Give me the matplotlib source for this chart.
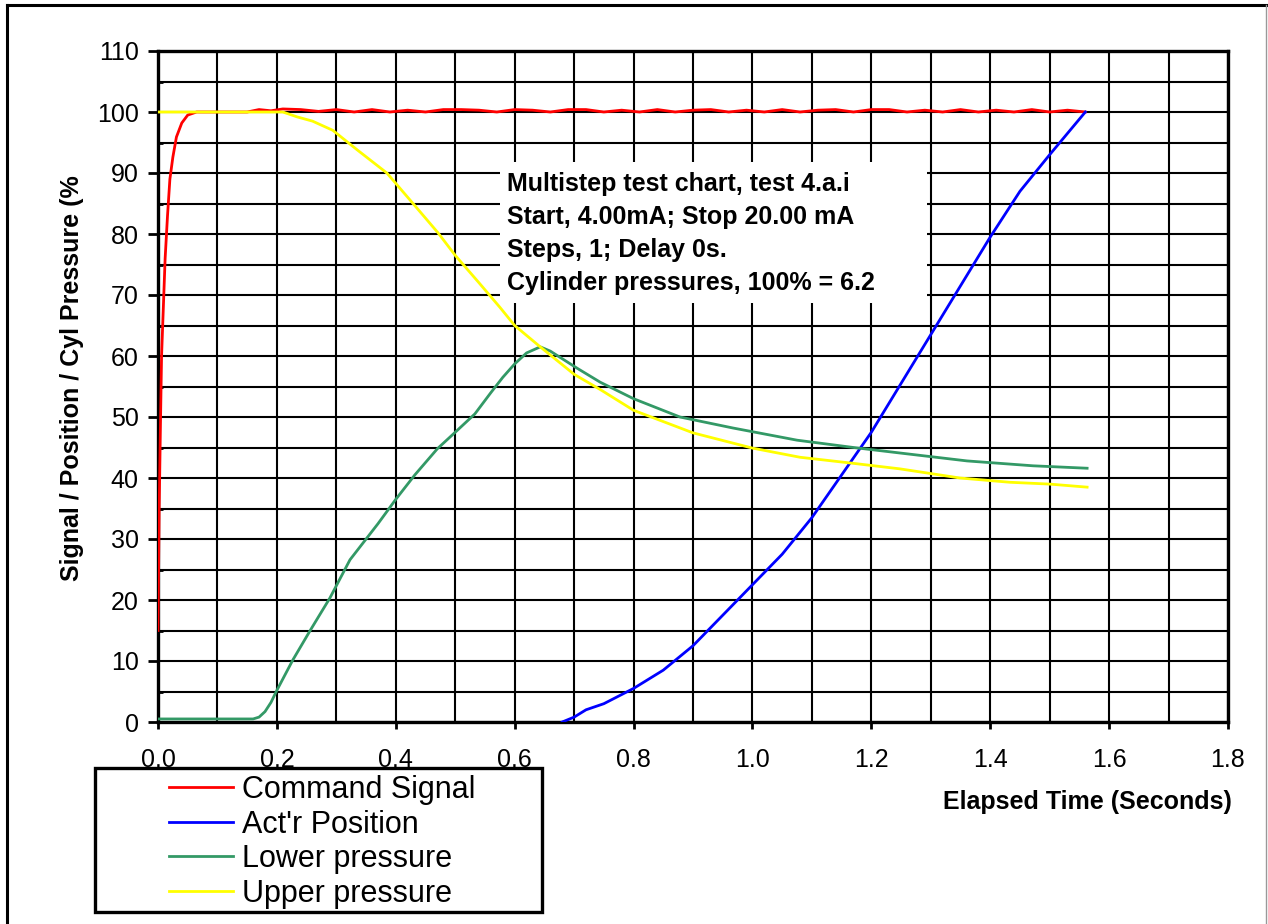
import numpy as np
import matplotlib
matplotlib.use("Agg")
import matplotlib.pyplot as plt
from matplotlib.patches import Rectangle
from matplotlib.lines import Line2D

plt.rcParams['font.family'] = ['Liberation Sans', 'DejaVu Sans']

# Command Signal (red)
cmd_t = [0.000, 0.001, 0.002, 0.004, 0.006, 0.009, 0.012, 0.016, 0.020, 0.025, 0.031, 0.040, 0.050, 0.065,
         0.15, 0.17, 0.19, 0.21, 0.24, 0.27, 0.30, 0.33, 0.36, 0.39, 0.42, 0.45, 0.48, 0.51, 0.54, 0.57,
         0.60, 0.63, 0.66, 0.69, 0.72, 0.75, 0.78, 0.81, 0.84, 0.87, 0.90, 0.93, 0.96, 0.99, 1.02, 1.05,
         1.08, 1.11, 1.14, 1.17, 1.20, 1.23, 1.26, 1.29, 1.32, 1.35, 1.38, 1.41, 1.44, 1.47, 1.50, 1.53, 1.56]
cmd_v = [15, 25, 35, 48, 60, 68, 76, 83, 89, 92.6, 95.9, 98.2, 99.5, 100,
         100, 100.4, 100.2, 100.5, 100.4, 100.1, 100.4, 100.0, 100.4, 100.0, 100.3, 100.0, 100.4, 100.4,
         100.3, 100.0, 100.4, 100.3, 100.0, 100.4, 100.4, 100.0, 100.3, 100.0, 100.4, 100.0, 100.3,
         100.4, 100.0, 100.3, 100.0, 100.4, 100.0, 100.3, 100.4, 100.0, 100.4, 100.4, 100.0, 100.3,
         100.0, 100.4, 100.0, 100.3, 100.0, 100.4, 100.0, 100.3, 100.0]

# Act'r Position (blue)
pos_t = [0.68, 0.70, 0.72, 0.75, 0.80, 0.85, 0.90, 0.95, 1.00, 1.05, 1.10, 1.15, 1.20, 1.25,
         1.30, 1.35, 1.40, 1.45, 1.50, 1.53, 1.56]
pos_v = [0, 0.8, 2.0, 3.0, 5.5, 8.5, 12.5, 17.5, 22.5, 27.5, 33.5, 40.5, 47.5, 55.5,
         63.5, 71.5, 79.5, 87.0, 93.0, 96.5, 100]

# Lower pressure (green)
low_t = [0.0, 0.16, 0.17, 0.18, 0.19, 0.20, 0.227, 0.256, 0.289, 0.323, 0.37, 0.40, 0.432, 0.47,
         0.50, 0.533, 0.56, 0.58, 0.60, 0.62, 0.643, 0.66, 0.705, 0.744, 0.80, 0.878, 0.967, 1.075,
         1.17, 1.248, 1.361, 1.472, 1.563]
low_v = [0.5, 0.5, 0.8, 1.7, 3.2, 5.2, 10.2, 15.0, 20.3, 26.6, 32.5, 36.5, 40.5, 44.8,
         47.5, 50.5, 54.0, 56.5, 58.7, 60.5, 61.5, 60.8, 58.0, 55.7, 53.0, 50.0, 48.2, 46.2,
         45.0, 44.1, 42.8, 42.0, 41.6]

# Upper pressure (yellow)
up_t = [0.0, 0.21, 0.234, 0.26, 0.294, 0.335, 0.385, 0.429, 0.471, 0.50, 0.54, 0.575, 0.60, 0.643,
        0.70, 0.744, 0.80, 0.90, 1.00, 1.08, 1.17, 1.248, 1.349, 1.433, 1.50, 1.563]
up_v = [100, 100, 99.2, 98.5, 97.0, 93.8, 90.0, 85.0, 80.2, 76.5, 72.0, 68.0, 65.0, 61.5,
        57.0, 54.5, 51.1, 47.4, 44.9, 43.4, 42.4, 41.5, 40.0, 39.3, 39.0, 38.5]

series = [
    ("Command Signal", cmd_t, cmd_v, "#ff0000"),
    ("Act'r Position", pos_t, pos_v, "#0000ff"),
    ("Lower pressure", low_t, low_v, "#339966"),
    ("Upper pressure", up_t, up_v, "#ffff00"),
]

x_ticks = [0.0, 0.2, 0.4, 0.6, 0.8, 1.0, 1.2, 1.4, 1.6, 1.8]
x_minor = [0.1, 0.3, 0.5, 0.7, 0.9, 1.1, 1.3, 1.5, 1.7]
y_ticks = [0, 10, 20, 30, 40, 50, 60, 70, 80, 90, 100, 110]
y_minor = [5, 15, 25, 35, 45, 55, 65, 75, 85, 95, 105]

info = ["Multistep test chart, test 4.a.i",
        "Start, 4.00mA; Stop 20.00 mA",
        "Steps, 1; Delay 0s.",
        "Cylinder pressures, 100% = 6.2"]

W, H = 1268, 924
fig = plt.figure(figsize=(W / 100, H / 100), dpi=100)
ax = fig.add_axes([158 / W, (H - 722) / H, (1228 - 158) / W, (722 - 51) / H])

for name, t, v, c in series:
    ax.plot(t, v, color=c, lw=2.0, label=name, zorder=3)

ax.set_xlim(0, 1.8)
ax.set_ylim(0, 110)
ax.set_xticks(x_ticks)
ax.set_xticklabels([f"{v:.1f}" for v in x_ticks])
ax.set_xticks(x_minor, minor=True)
ax.set_yticks(y_ticks)
ax.set_yticks(y_minor, minor=True)
ax.grid(which='both', color='black', lw=1.5, zorder=1)
ax.set_axisbelow(True)
for s in ax.spines.values():
    s.set_linewidth(2.4)

ax.tick_params(axis='y', which='major', direction='out', length=7, width=2, pad=7, labelsize=18)
ax.tick_params(axis='y', which='minor', direction='in', length=3.5, width=2)
ax.tick_params(axis='x', which='major', direction='out', length=5, width=2, pad=14, labelsize=18)
ax.tick_params(axis='x', which='minor', length=0)

# info box
ax.add_patch(Rectangle((0.575, 68.7), 1.294 - 0.575, 91.8 - 68.7, facecolor='white',
                       edgecolor='none', zorder=2))
ax.text(0.587, 90.1, "\n".join(info), fontsize=18, fontweight='bold', va='top', ha='left',
        linespacing=1.46, zorder=4)

fig.text(72 / W, 1 - 378 / H, "Signal / Position / Cyl Pressure (%", rotation=90,
         fontsize=18, fontweight='bold', ha='center', va='center')
fig.text(1232 / W, 1 - 802 / H, "Elapsed Time (Seconds)", fontsize=18, fontweight='bold',
         ha='right', va='center')

# legend box
fig.patches.append(Rectangle((95 / W, 1 - 912 / H), (542 - 95) / W, (912 - 768) / H,
                             transform=fig.transFigure, facecolor='white', edgecolor='black',
                             lw=2.4, zorder=4))
handles, labels = ax.get_legend_handles_labels()
fig.legend(handles, labels, loc='upper left', bbox_to_anchor=(169 / W, 1 - 775 / H),
           frameon=False, fontsize=22, handlelength=2.1, handletextpad=0.3,
           labelspacing=0.15, borderaxespad=0, borderpad=0)

# outer frame
fig.add_artist(Line2D([7 / W, 1266 / W], [1 - 5 / H, 1 - 5 / H], color='black', lw=2.2,
                      transform=fig.transFigure))
fig.add_artist(Line2D([7 / W, 7 / W], [0, 1 - 5 / H], color='black', lw=2.2,
                      transform=fig.transFigure))
fig.add_artist(Line2D([1266 / W, 1266 / W], [0, 1 - 5 / H], color='#999999', lw=1,
                      transform=fig.transFigure))

fig.savefig("out.png", dpi=100)
